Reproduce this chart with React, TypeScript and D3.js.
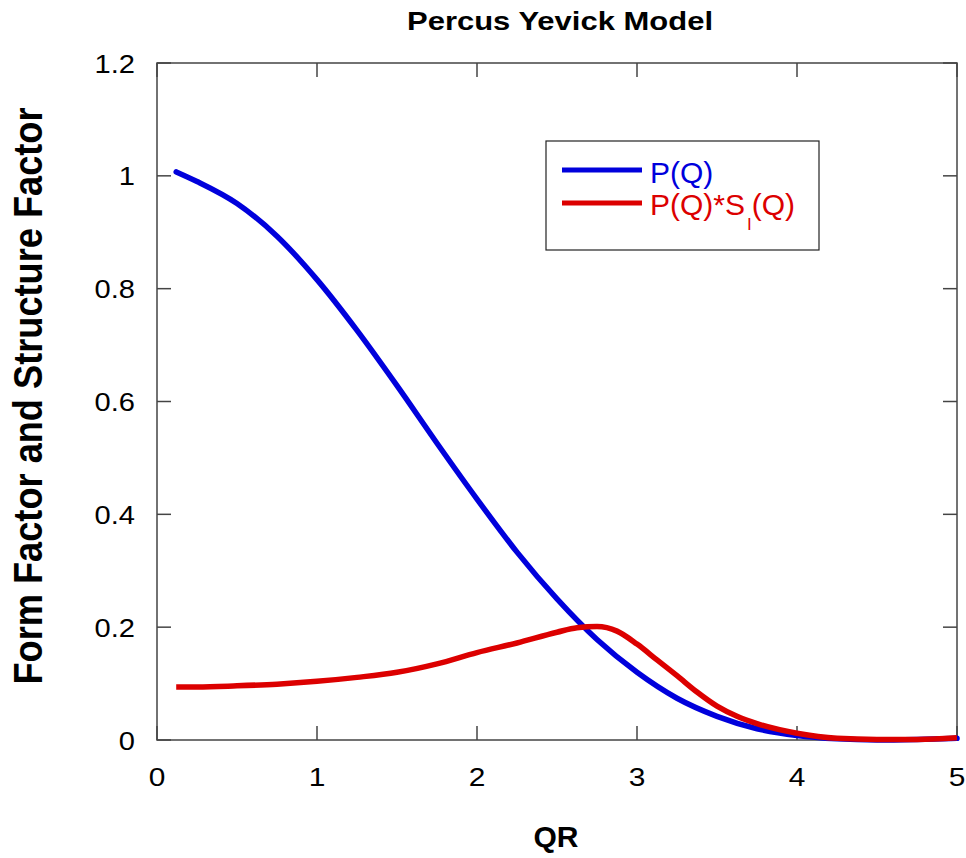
import React from "react";
import * as d3 from "d3";

const qr = [0.12, 0.25, 0.5, 0.75, 1.0, 1.25, 1.5, 1.75, 2.0, 2.25, 2.5, 2.75, 3.0, 3.25, 3.5, 3.75, 4.0, 4.25, 4.5, 4.75, 5.0];
const formFactor = [1.007, 0.99, 0.951, 0.893, 0.816, 0.726, 0.628, 0.526, 0.427, 0.333, 0.25, 0.178, 0.12, 0.074, 0.042, 0.02, 0.008, 0.002, 0.0, 0.001, 0.003];

const qrRed = [0.12, 0.25, 0.5, 0.75, 1.0, 1.25, 1.5, 1.75, 2.0, 2.25, 2.5, 2.625, 2.75, 2.875, 3.0, 3.125, 3.25, 3.375, 3.5, 3.625, 3.75, 4.0, 4.25, 4.5, 4.75, 5.0];
const formTimesStructure = [0.094, 0.094, 0.096, 0.099, 0.104, 0.111, 0.12, 0.135, 0.155, 0.172, 0.191, 0.199, 0.201, 0.193, 0.17, 0.142, 0.114, 0.085, 0.06, 0.042, 0.029, 0.012, 0.003, 0.001, 0.001, 0.004];

const xTicks = [0, 1, 2, 3, 4, 5];
const yTicks = [0, 0.2, 0.4, 0.6, 0.8, 1, 1.2];

const BLUE = "#0000dc";
const RED = "#dc0000";
const FONT = "Arial, 'Liberation Sans', sans-serif";

export default function App() {
  const left = 157, right = 957, top = 63, bottom = 740;
  const x = d3.scaleLinear().domain([0, 5]).range([left, right]);
  const y = d3.scaleLinear().domain([0, 1.2]).range([bottom, top]);
  const line = d3.line<[number, number]>().x(d => x(d[0])).y(d => y(d[1])).curve(d3.curveMonotoneX);
  const blueData: [number, number][] = qr.map((q, i) => [q, formFactor[i]]);
  const redData: [number, number][] = qrRed.map((q, i) => [q, formTimesStructure[i]]);
  const tickLen = 14;
  const axisColor = "#444";

  return (
    <svg width={966} height={858} style={{ position: "absolute", left: 0, top: 0, background: "#fff" }} fontFamily={FONT}>
      <rect x={0} y={0} width={966} height={858} fill="#fff" />
      <text x={407} y={30} fontSize={26} fontWeight="bold" textLength={306} lengthAdjust="spacingAndGlyphs">Percus Yevick Model</text>

      {xTicks.map(t => (
        <g key={"xt" + t}>
          <line x1={x(t)} x2={x(t)} y1={bottom} y2={bottom - tickLen} stroke={axisColor} strokeWidth={1.5} />
          <line x1={x(t)} x2={x(t)} y1={top} y2={top + tickLen} stroke={axisColor} strokeWidth={1.5} />
          <g transform={`translate(${x(t)},786) scale(1.15,1)`}>
            <text textAnchor="middle" fontSize={26} fill="#000">{t}</text>
          </g>
        </g>
      ))}
      {yTicks.map(t => (
        <g key={"yt" + t}>
          <line x1={left} x2={left + tickLen} y1={y(t)} y2={y(t)} stroke={axisColor} strokeWidth={1.5} />
          <line x1={right} x2={right - tickLen} y1={y(t)} y2={y(t)} stroke={axisColor} strokeWidth={1.5} />
          <g transform={`translate(135,${y(t) + 9.5}) scale(1.12,1)`}>
            <text textAnchor="end" fontSize={26} fill="#000">{String(t)}</text>
          </g>
        </g>
      ))}

      <rect x={left} y={top} width={right - left} height={bottom - top} fill="none" stroke={axisColor} strokeWidth={1.5} />

      <path d={line(blueData) || ""} fill="none" stroke={BLUE} strokeWidth={5.5} strokeLinejoin="round" strokeLinecap="round" />
      <path d={line(redData) || ""} fill="none" stroke={RED} strokeWidth={5.5} strokeLinejoin="round" />

      <rect x={546} y={141} width={273} height={109} fill="#fff" stroke="#222" strokeWidth={1.2} />
      <line x1={562} x2={642} y1={170} y2={170} stroke={BLUE} strokeWidth={5} />
      <line x1={562} x2={642} y1={203} y2={203} stroke={RED} strokeWidth={5} />
      <text x={650} y={183} fontSize={30} fill={BLUE}>P(Q)</text>
      <text x={650} y={215} fontSize={30} fill={RED}>
        P(Q)*S<tspan fontSize={17} dy={15} dx={2}>I</tspan><tspan dy={-15} fontSize={30}>(Q)</tspan>
      </text>

      <text x={556} y={847} fontSize={30} fontWeight="bold" textAnchor="middle">QR</text>
      <g transform={`translate(42,396) scale(1.15,1) rotate(-90)`}>
        <text textAnchor="middle" fontSize={36} fontWeight="bold" textLength={577} lengthAdjust="spacingAndGlyphs">Form Factor and Structure Factor</text>
      </g>
    </svg>
  );
}
